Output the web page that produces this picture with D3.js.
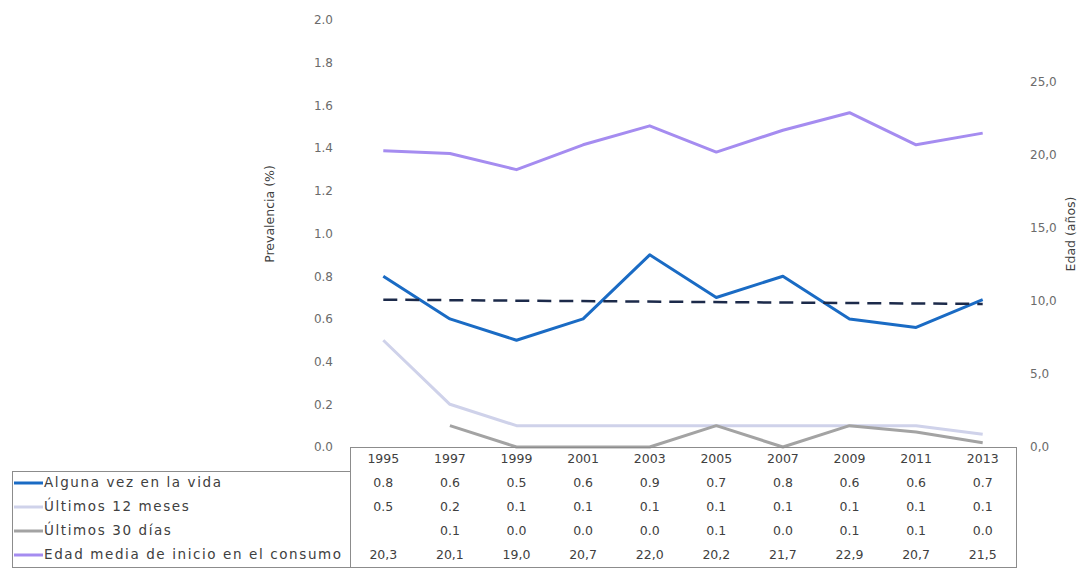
<!DOCTYPE html>
<html>
<head>
  <meta charset="utf-8">
  <style type="text/css">
    body { margin: 0; background: #fff; }
    svg { display: block; }
    text { font-family: "DejaVu Sans", sans-serif; fill: #595959; }
    .axis path { display: none; }
    .axis line { display: none; }
    .axis text { font-size: 12px; fill: #6b6b6b; font-family: "DejaVu Sans", sans-serif; }
    .cell { font-size: 12.5px; fill: #404040; }
    .rowname { font-size: 13.5px; fill: #404040; letter-spacing: 1.6px; }
    .tableline { fill: none; stroke: #8c8c8c; stroke-width: 1; shape-rendering: crispEdges; }
  </style>
</head>
<body>
  <div class="svg_container"></div>

  <script src="https://cdnjs.cloudflare.com/ajax/libs/d3/7.8.5/d3.min.js"></script>
  <script type="text/javascript">
    // data
    var years = ["1995", "1997", "1999", "2001", "2003", "2005", "2007", "2009", "2011", "2013"];
    var algunaVez = [0.80, 0.60, 0.50, 0.60, 0.90, 0.70, 0.80, 0.60, 0.56, 0.69];
    var ultimos12 = [0.50, 0.20, 0.10, 0.10, 0.10, 0.10, 0.10, 0.10, 0.10, 0.06];
    var ultimos30 = [null, 0.10, 0.00, 0.00, 0.00, 0.10, 0.00, 0.10, 0.07, 0.02];
    var edadMedia = [20.3, 20.1, 19.0, 20.7, 22.0, 20.2, 21.7, 22.9, 20.7, 21.5];
    // linear trend of "Alguna vez en la vida" (first and last year)
    var trendYears = ["1995", "2013"];
    var trendValues = [0.69, 0.67];

    var leftTicks = [0, 0.2, 0.4, 0.6, 0.8, 1.0, 1.2, 1.4, 1.6, 1.8, 2.0];
    var rightTicks = [0, 5, 10, 15, 20, 25];

    var series = [
      { name: "Alguna vez en la vida", values: algunaVez, color: "#1a6bc4", axis: "left", fmt: "pt" },
      { name: "Últimos 12 meses", values: ultimos12, color: "#cfd2ea", axis: "left", fmt: "pt" },
      { name: "Últimos 30 días", values: ultimos30, color: "#a3a3a3", axis: "left", fmt: "pt" },
      { name: "Edad media de inicio en el consumo", values: edadMedia, color: "#a58cf0", axis: "right", fmt: "comma" }
    ];

    var W = 1082, H = 569;
    var plot = { left: 350, right: 1016, top: 20, bottom: 447 };
    var rowH = 24;
    var tableLeft = 12;

    var svg = d3.select(".svg_container").append("svg")
      .attr("width", W)
      .attr("height", H);

    var x = d3.scaleBand()
      .domain(years)
      .range([plot.left, plot.right])
      .paddingInner(0);
    var yL = d3.scaleLinear().domain([0, 2]).range([plot.bottom, plot.top]);
    var yR = d3.scaleLinear().domain([0, 29.25]).range([plot.bottom, plot.top]);

    var cx = function(yr) { return x(yr) + x.bandwidth() / 2; };
    var fmtPt = d3.format(".1f");
    var fmtComma = function(d) { return d3.format(".1f")(d).replace(".", ","); };

    // axes
    svg.append("g")
      .attr("class", "axis")
      .attr("transform", "translate(" + plot.left + ",0)")
      .call(d3.axisLeft(yL).tickValues(leftTicks).tickSize(0).tickPadding(17).tickFormat(fmtPt));

    svg.append("g")
      .attr("class", "axis")
      .attr("transform", "translate(" + plot.right + ",0)")
      .call(d3.axisRight(yR).tickValues(rightTicks).tickSize(0).tickPadding(14).tickFormat(fmtComma));

    svg.append("text")
      .attr("transform", "translate(270," + 214 + ") rotate(-90)")
      .attr("text-anchor", "middle")
      .attr("dominant-baseline", "middle")
      .style("font-size", "12.5px")
      .style("fill", "#404040")
      .text("Prevalencia (%)");

    svg.append("text")
      .attr("transform", "translate(1071," + 234 + ") rotate(-90)")
      .attr("text-anchor", "middle")
      .attr("dominant-baseline", "middle")
      .style("font-size", "12.5px")
      .style("fill", "#404040")
      .text("Edad (años)");

    // lines
    series.forEach(function(s) {
      var yScale = s.axis === "left" ? yL : yR;
      var line = d3.line()
        .defined(function(d) { return d != null; })
        .x(function(d, i) { return cx(years[i]); })
        .y(function(d) { return yScale(d); });
      svg.append("path")
        .datum(s.values)
        .attr("fill", "none")
        .attr("stroke", s.color)
        .attr("stroke-width", 3)
        .attr("stroke-linejoin", "round")
        .attr("d", line);
    });

    // trend line (dashed)
    svg.append("path")
      .datum(trendValues)
      .attr("fill", "none")
      .attr("stroke", "#1c2a4a")
      .attr("stroke-width", 2.5)
      .attr("stroke-dasharray", "14,8")
      .attr("d", d3.line()
        .x(function(d, i) { return cx(trendYears[i]); })
        .y(function(d) { return yL(d); }));

    // data table
    var tableBottom = plot.bottom + rowH * (series.length + 1);
    var g = svg.append("g");

    g.append("path").attr("class", "tableline")
      .attr("d", "M" + plot.left + "," + plot.bottom + "H" + plot.right + "V" + tableBottom +
        "H" + tableLeft + "V" + (plot.bottom + rowH) + "H" + plot.left);
    g.append("path").attr("class", "tableline")
      .attr("d", "M" + plot.left + "," + plot.bottom + "V" + tableBottom);

    g.selectAll(".yr")
      .data(years)
      .enter().append("text")
      .attr("class", "cell")
      .attr("x", function(d) { return cx(d); })
      .attr("y", plot.bottom + rowH / 2)
      .attr("text-anchor", "middle")
      .attr("dominant-baseline", "middle")
      .text(function(d) { return d; });

    series.forEach(function(s, r) {
      var ym = plot.bottom + rowH * (r + 1) + rowH / 2;
      g.append("line")
        .attr("x1", 14).attr("x2", 43)
        .attr("y1", ym).attr("y2", ym)
        .attr("stroke", s.color)
        .attr("stroke-width", 3);
      g.append("text")
        .attr("class", "rowname")
        .attr("x", 44)
        .attr("y", ym)
        .attr("dominant-baseline", "middle")
        .text(s.name);
      g.selectAll(".v" + r)
        .data(s.values)
        .enter().append("text")
        .attr("class", "cell")
        .attr("x", function(d, i) { return cx(years[i]); })
        .attr("y", ym)
        .attr("text-anchor", "middle")
        .attr("dominant-baseline", "middle")
        .text(function(d) {
          if (d == null) return "";
          return s.fmt === "comma" ? fmtComma(d) : fmtPt(d);
        });
    });
  </script>
</body>
</html>
